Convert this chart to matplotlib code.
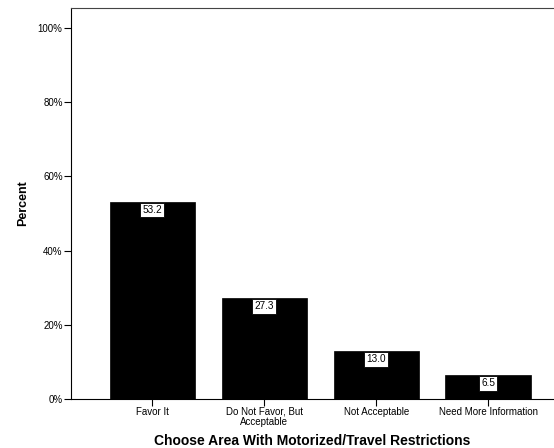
import matplotlib
matplotlib.use("Agg")
import matplotlib.pyplot as plt
from matplotlib.ticker import FuncFormatter

categories = ["Favor It", "Do Not Favor, But\nAcceptable", "Not Acceptable", "Need More Information"]
values = [53.2, 27.3, 13.0, 6.5]
yticks = [0, 20, 40, 60, 80, 100]

plt.rcParams['font.family'] = ['Liberation Sans', 'DejaVu Sans']

fig = plt.figure(figsize=(5.54, 4.48), dpi=100)
ax = fig.add_axes([71/554, 49/448, (554-71)/554, (399-8)/448])

x = list(range(len(categories)))
bars = ax.bar(x, values, width=0.76, color='black', edgecolor='black', linewidth=0.5)
for xi, v in zip(x, values):
    ax.annotate(f"{v:.1f}", xy=(xi, v), xytext=(0, -6.2), textcoords='offset points',
                ha='center', va='center', fontsize=7.2,
                bbox=dict(boxstyle='square,pad=0.22', fc='white', ec='black', lw=0.6))

ax.set_xlim(-0.728, 3.59)
ax.set_ylim(0, 105.4)
ax.set_yticks(yticks)
ax.yaxis.set_major_formatter(FuncFormatter(lambda v, p: f"{v:.0f}%"))
ax.set_xticks(x)
ax.set_xticklabels(categories, fontsize=7, linespacing=1.1)
ax.tick_params(axis='y', labelsize=7, length=5, width=0.8, pad=1)
ax.tick_params(axis='x', length=5, width=0.8, pad=0.5)
ax.spines['right'].set_visible(False)
for s in ['left', 'bottom', 'top']:
    ax.spines[s].set_linewidth(0.8)
ax.spines['top'].set_color('#444444')
ax.set_ylabel("Percent", fontsize=9, fontweight='bold', labelpad=6)
ax.set_xlabel("Choose Area With Motorized/Travel Restrictions", fontsize=10, fontweight='bold', labelpad=5)

fig.savefig("out.png", dpi=100)
